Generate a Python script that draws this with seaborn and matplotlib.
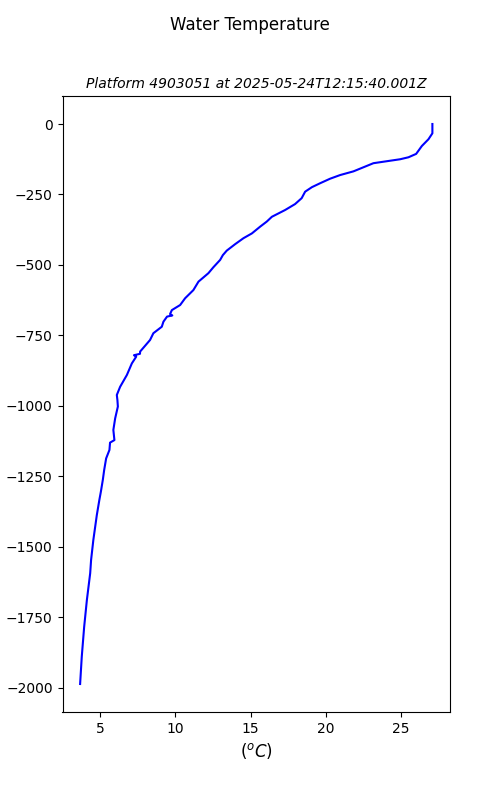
import numpy as np
import pandas as pd
import seaborn as sns
import matplotlib.pyplot as plt

# Profile
depth = [0, 10, 33, 54, 66, 78, 95, 106, 118, 125, 132, 139, 151, 168, 181, 194,
         210, 224, 240, 263, 284, 305, 329, 346, 364, 388, 405, 426, 449, 465,
         482, 508, 529, 559, 589, 618, 642, 660, 674, 679, 683, 701, 719, 742,
         766, 807, 815, 820, 825, 849, 890, 932, 961, 979, 1002, 1044, 1085,
         1121, 1130, 1156, 1186, 1227, 1262, 1304, 1333, 1387, 1475, 1546,
         1593, 1688, 1783, 1889, 1986]
temp = [27.09, 27.09, 27.09, 26.83, 26.61, 26.39, 26.16, 26.01, 25.50, 24.95,
        24.06, 23.17, 22.62, 21.84, 20.96, 20.29, 19.63, 19.08, 18.63, 18.40,
        17.96, 17.30, 16.42, 16.08, 15.64, 15.09, 14.53, 13.98, 13.42, 13.16,
        12.98, 12.53, 12.20, 11.54, 11.20, 10.65, 10.32, 9.77, 9.65, 9.80,
        9.45, 9.21, 9.10, 8.54, 8.32, 7.66, 7.65, 7.25, 7.40, 7.11, 6.78, 6.33,
        6.11, 6.15, 6.18, 6.00, 5.88, 5.95, 5.66, 5.62, 5.40, 5.27, 5.18, 5.05,
        4.95, 4.78, 4.55, 4.40, 4.34, 4.12, 3.94, 3.78, 3.67]

df = pd.DataFrame({"temp": temp, "depth": -np.array(depth)})

fig, ax = plt.subplots(figsize=(5, 8), dpi=100)
sns.lineplot(data=df, x="temp", y="depth", sort=False, estimator=None,
             color="blue", ax=ax)

fig.suptitle("Water Temperature", fontsize=12)
ax.set_title("Platform 4903051 at 2025-05-24T12:15:40.001Z",
             fontsize=10, style="italic")
ax.set_xlabel("($^oC$)", fontsize=12)
ax.set_ylabel("depth (m)")

plt.savefig("out.png")
